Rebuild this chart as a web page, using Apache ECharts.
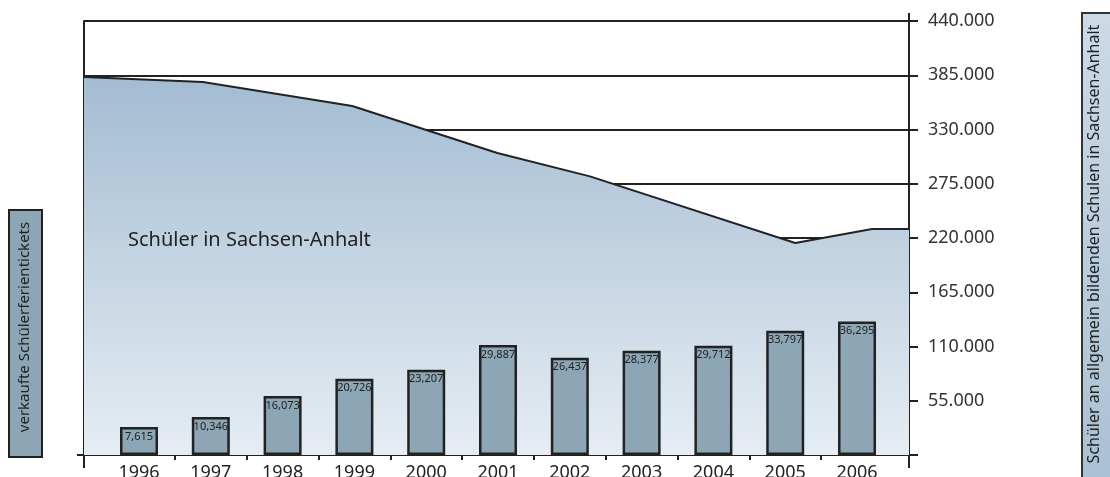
<!DOCTYPE html>
<html>
<head>
<meta charset="utf-8">
<script src="https://cdn.jsdelivr.net/npm/echarts@6/dist/echarts.min.js"></script>
<style>
  html, body { margin: 0; padding: 0; background: #fff; }
  #chart { width: 1110px; height: 477px; }
</style>
</head>
<body>
<div id="chart"></div>
<script>
// bars: sold holiday tickets per year
var years = [1996, 1997, 1998, 1999, 2000, 2001, 2002, 2003, 2004, 2005, 2006];
var tickets = [7615, 10346, 16073, 20726, 23207, 29887, 26437, 28377, 29712, 33797, 36295];

// area: pupils in Sachsen-Anhalt (x in years)
var pupilX = [1995.234, 1996.89, 1998.97, 2000.99, 2002.28, 2005.14, 2006.21, 2006.724];
var pupils = [383200, 378200, 353800, 306200, 282500, 214900, 229100, 229100];

// right axis ticks
var pupilTicks = [0, 55000, 110000, 165000, 220000, 275000, 330000, 385000, 440000];

var X_MIN = 1995.234, X_MAX = 2006.724;
var yearBounds = [];
for (var i = 0; i < years.length - 1; i++) {
    yearBounds.push(years[i] + 0.5);
}

var font = '"Noto Sans", "Open Sans", sans-serif';
var ink = '#222';

function deNumber(v) {
    return String(v).replace(/\B(?=(\d{3})+(?!\d))/g, '.');
}
function enNumber(v) {
    return String(v).replace(/\B(?=(\d{3})+(?!\d))/g, ',');
}

var myChart = echarts.init(document.getElementById('chart'), null, {renderer: 'canvas'});

var barData = [];
for (var i = 0; i < years.length; i++) {
    barData.push([years[i], tickets[i]]);
}
var areaData = [];
for (var i = 0; i < pupilX.length; i++) {
    areaData.push([pupilX[i], pupils[i]]);
}

var option = {
    backgroundColor: '#fff',
    animation: false,
    grid: {left: 84, right: 201, top: 21, bottom: 22, containLabel: false, outerBoundsMode: 'none'},
    xAxis: [
        {
            type: 'value', min: X_MIN, max: X_MAX, position: 'bottom',
            axisLine: {show: true, lineStyle: {color: ink, width: 2}},
            axisTick: {show: true, customValues: yearBounds, length: 5, lineStyle: {color: ink, width: 2}},
            axisLabel: {
                customValues: years, margin: 9, color: ink, fontSize: 18, fontFamily: font,
                formatter: function (v) { return String(Math.round(v)); }
            },
            splitLine: {show: false}
        },
        {
            type: 'value', min: X_MIN, max: X_MAX, position: 'bottom', gridIndex: 0,
            axisLine: {show: false},
            axisTick: {show: true, inside: true, customValues: yearBounds, length: 5, lineStyle: {color: ink, width: 2}},
            axisLabel: {show: false},
            splitLine: {show: false}
        },
        {
            type: 'value', min: X_MIN, max: X_MAX, position: 'bottom',
            axisLine: {show: false},
            axisTick: {show: true, customValues: [X_MIN, X_MAX], length: 13, lineStyle: {color: ink, width: 2}},
            axisLabel: {show: false},
            splitLine: {show: false}
        },
        {
            type: 'value', min: X_MIN, max: X_MAX, position: 'top',
            axisLine: {show: false},
            axisTick: {show: true, customValues: [X_MAX], length: 8, lineStyle: {color: ink, width: 2}},
            axisLabel: {show: false},
            splitLine: {show: false}
        }
    ],
    yAxis: [
        {
            type: 'value', min: 0, max: 440000, interval: 55000, position: 'right',
            axisLine: {show: true, lineStyle: {color: ink, width: 2}},
            axisTick: {show: true, length: 9, lineStyle: {color: ink, width: 2}},
            axisLabel: {
                margin: 19, color: '#333', fontSize: 18, fontFamily: font,
                formatter: function (v) { return v === 0 ? '' : deNumber(v); }
            },
            splitLine: {show: true, lineStyle: {color: ink, width: 2}}
        },
        {
            type: 'value', min: 0, max: 118000, show: false
        },
        {
            type: 'value', min: 0, max: 440000, position: 'left',
            axisLine: {show: true, lineStyle: {color: ink, width: 2}},
            axisTick: {show: true, customValues: [0], length: 7, lineStyle: {color: ink, width: 2}},
            axisLabel: {show: false},
            splitLine: {show: false}
        }
    ],
    series: [
        {
            name: 'Schüler',
            type: 'line',
            xAxisIndex: 0,
            yAxisIndex: 0,
            data: areaData,
            symbol: 'none',
            lineStyle: {color: ink, width: 2},
            areaStyle: {
                opacity: 1,
                color: new echarts.graphic.LinearGradient(0, 0, 0, 1, [
                    {offset: 0, color: '#a3bcd2'},
                    {offset: 1, color: '#e6edf3'}
                ])
            },
            z: 2
        },
        {
            name: 'Tickets',
            type: 'bar',
            xAxisIndex: 0,
            yAxisIndex: 1,
            data: barData,
            barWidth: 38,
            itemStyle: {color: '#8da6b6', borderColor: ink, borderWidth: 2.5},
            label: {
                show: true, position: 'insideTop', distance: 4,
                color: ink, fontSize: 11, fontFamily: font,
                formatter: function (p) { return enNumber(p.value[1]); }
            },
            z: 3
        }
    ],
    graphic: [
        {
            type: 'text', left: 128, top: 230, z: 10,
            style: {text: 'Schüler in Sachsen-Anhalt', fill: ink, font: '20px ' + font}
        },
        {
            type: 'rect', left: 8, top: 209, z: 10,
            shape: {width: 33, height: 247},
            style: {fill: '#8da6b6', stroke: ink, lineWidth: 2}
        },
        {
            type: 'text', x: 25, y: 327, rotation: Math.PI / 2, z: 11,
            style: {
                text: 'verkaufte Schülerferientickets', fill: ink, font: '15px ' + font,
                align: 'center', verticalAlign: 'middle'
            }
        },
        {
            type: 'rect', left: 1081, top: 12, z: 10,
            shape: {width: 30, height: 480},
            style: {
                fill: new echarts.graphic.LinearGradient(0, 0, 0, 1, [
                    {offset: 0, color: '#ccdae6'},
                    {offset: 1, color: '#a9c0d3'}
                ]),
                stroke: '#333', lineWidth: 2
            }
        },
        {
            type: 'text', x: 1094, y: 244, rotation: Math.PI / 2, z: 11,
            style: {
                text: 'Schüler an allgemein bildenden Schulen in Sachsen-Anhalt', fill: ink,
                font: '16px ' + font, align: 'center', verticalAlign: 'middle'
            }
        }
    ]
};

myChart.setOption(option);
</script>
</body>
</html>
